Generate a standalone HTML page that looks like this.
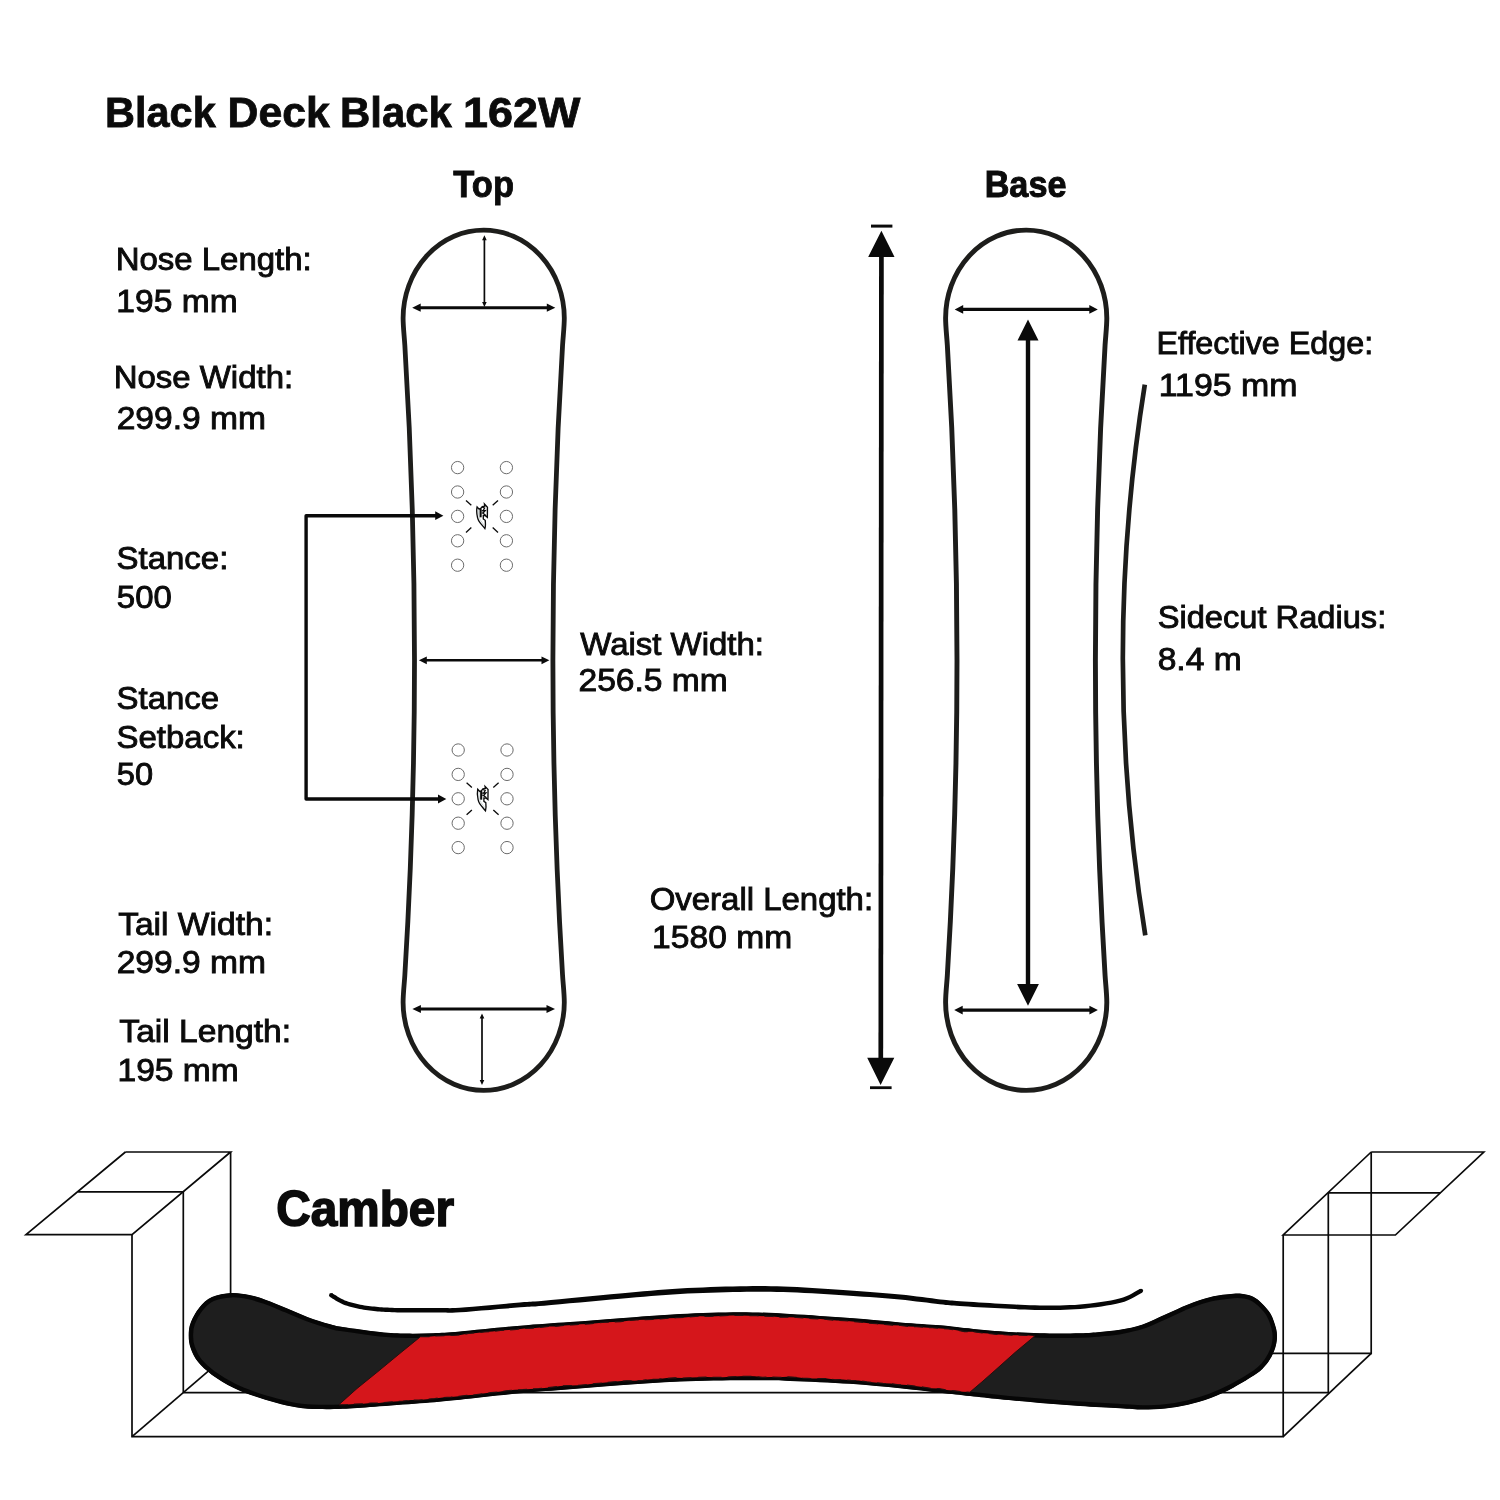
<!DOCTYPE html>
<html><head><meta charset="utf-8"><title>Black Deck Black 162W</title>
<style>html,body{margin:0;padding:0;background:#fff}body{width:1500px;height:1500px;overflow:hidden;font-family:"Liberation Sans",sans-serif}svg{display:block}text{font-family:"Liberation Sans",sans-serif}</style></head><body>
<svg width="1500" height="1500" viewBox="0 0 1500 1500">
<rect width="1500" height="1500" fill="#fff"/>
<path d="M 403.10,318.10 A 80.6 88.0 0 0 1 564.30,318.10 C 564.30,327.10 563.12,336.10 562.57,345.10 Q 543.23,660.25 562.57,975.40 C 563.12,984.40 564.30,993.40 564.30,1002.40 A 80.6 88.0 0 0 1 403.10,1002.40 C 403.10,993.40 404.28,984.40 404.83,975.40 Q 424.17,660.25 404.83,345.10 C 404.28,336.10 403.10,327.10 403.10,318.10 Z" fill="none" stroke="#1d1d1b" stroke-width="4.8" stroke-linejoin="round"/>
<line x1="419.7" y1="307.7" x2="547.8" y2="307.7" stroke="#0a0a0a" stroke-width="2.9"/><path d="M412.2,307.7 L420.7,303.6 L420.7,311.8 Z M555.3,307.7 L546.8,303.6 L546.8,311.8 Z" fill="#0a0a0a"/>
<line x1="484.4" y1="239.2" x2="484.4" y2="303" stroke="#0a0a0a" stroke-width="1.7"/><path d="M484.4,235.2 L482.1,240.2 L486.7,240.2 Z M484.4,307 L482.1,302 L486.7,302 Z" fill="#0a0a0a"/>
<line x1="425.8" y1="660.3" x2="542.5" y2="660.3" stroke="#0a0a0a" stroke-width="2.5"/><path d="M418.9,660.3 L426.8,656.4 L426.8,664.2 Z M549.4,660.3 L541.5,656.4 L541.5,664.2 Z" fill="#0a0a0a"/>
<line x1="419.9" y1="1009" x2="547.5" y2="1009" stroke="#0a0a0a" stroke-width="2.9"/><path d="M412.4,1009 L420.9,1004.9 L420.9,1013.1 Z M555,1009 L546.5,1004.9 L546.5,1013.1 Z" fill="#0a0a0a"/>
<line x1="482" y1="1017.4" x2="482" y2="1081" stroke="#0a0a0a" stroke-width="1.7"/><path d="M482,1013.4 L479.7,1018.4 L484.3,1018.4 Z M482,1085 L479.7,1080 L484.3,1080 Z" fill="#0a0a0a"/>
<circle cx="457.6" cy="467.6" r="6.15" fill="none" stroke="#6c6c6c" stroke-width="1.0"/>
<circle cx="506.4" cy="467.6" r="6.15" fill="none" stroke="#6c6c6c" stroke-width="1.0"/>
<circle cx="457.6" cy="492.0" r="6.15" fill="none" stroke="#6c6c6c" stroke-width="1.0"/>
<circle cx="506.4" cy="492.0" r="6.15" fill="none" stroke="#6c6c6c" stroke-width="1.0"/>
<circle cx="457.6" cy="516.4" r="6.15" fill="none" stroke="#6c6c6c" stroke-width="1.0"/>
<circle cx="506.4" cy="516.4" r="6.15" fill="none" stroke="#6c6c6c" stroke-width="1.0"/>
<circle cx="457.6" cy="540.8" r="6.15" fill="none" stroke="#6c6c6c" stroke-width="1.0"/>
<circle cx="506.4" cy="540.8" r="6.15" fill="none" stroke="#6c6c6c" stroke-width="1.0"/>
<circle cx="457.6" cy="565.2" r="6.15" fill="none" stroke="#6c6c6c" stroke-width="1.0"/>
<circle cx="506.4" cy="565.2" r="6.15" fill="none" stroke="#6c6c6c" stroke-width="1.0"/>
<line x1="466.0" y1="500.4" x2="471.3" y2="505.2" stroke="#0a0a0a" stroke-width="1.3"/>
<line x1="466.0" y1="532.4" x2="471.3" y2="527.6" stroke="#0a0a0a" stroke-width="1.3"/>
<line x1="498.0" y1="500.4" x2="492.7" y2="505.2" stroke="#0a0a0a" stroke-width="1.3"/>
<line x1="498.0" y1="532.4" x2="492.7" y2="527.6" stroke="#0a0a0a" stroke-width="1.3"/>
<path transform="translate(482.0,516.4)" d="M-4.9,-9.5 C-5.6,-6 -5.2,-2 -4.5,0.9 C-4,3 -3.4,4.2 -2.9,4.9 C-1.6,6.8 1.2,10 2.9,12.1 C3.4,10.5 3.5,6.5 3.2,3.9 L1.3,2.6 L1.3,-0.9 L3.4,-0.7 L5.35,0.9 L5.45,-9.2 L2.45,-12.4 L2.7,-10.3 L0.3,-9.9 L-1.3,-7.9 L-2.9,-7.3 Z" fill="none" stroke="#0a0a0a" stroke-width="1.35" stroke-linejoin="miter" stroke-miterlimit="6"/>
<path transform="translate(482.0,516.4)" d="M-1.4,-7.9 L-1.4,0.9" fill="none" stroke="#0a0a0a" stroke-width="2.1"/>
<path transform="translate(482.0,516.4)" d="M0.2,-9.3 L2.6,-8.4 L1.1,-5.6 L3.3,-5.9 L1.0,-3.2 L3.9,-1.0 M-0.3,-3.6 L1.2,-3.2 M-0.3,-5.8 L1.0,-5.6" fill="none" stroke="#0a0a0a" stroke-width="1.3"/>
<path transform="translate(482.0,516.4)" d="M-3.6,-6.9 C-3.8,-2 -3,1.5 -1.4,4 C0,6 1.5,7.8 2.4,9" fill="none" stroke="#9aa" stroke-width="0.5"/>
<circle cx="458.2" cy="750.0" r="6.15" fill="none" stroke="#6c6c6c" stroke-width="1.0"/>
<circle cx="507.0" cy="750.0" r="6.15" fill="none" stroke="#6c6c6c" stroke-width="1.0"/>
<circle cx="458.2" cy="774.4" r="6.15" fill="none" stroke="#6c6c6c" stroke-width="1.0"/>
<circle cx="507.0" cy="774.4" r="6.15" fill="none" stroke="#6c6c6c" stroke-width="1.0"/>
<circle cx="458.2" cy="798.8" r="6.15" fill="none" stroke="#6c6c6c" stroke-width="1.0"/>
<circle cx="507.0" cy="798.8" r="6.15" fill="none" stroke="#6c6c6c" stroke-width="1.0"/>
<circle cx="458.2" cy="823.2" r="6.15" fill="none" stroke="#6c6c6c" stroke-width="1.0"/>
<circle cx="507.0" cy="823.2" r="6.15" fill="none" stroke="#6c6c6c" stroke-width="1.0"/>
<circle cx="458.2" cy="847.6" r="6.15" fill="none" stroke="#6c6c6c" stroke-width="1.0"/>
<circle cx="507.0" cy="847.6" r="6.15" fill="none" stroke="#6c6c6c" stroke-width="1.0"/>
<line x1="466.6" y1="782.8" x2="471.9" y2="787.6" stroke="#0a0a0a" stroke-width="1.3"/>
<line x1="466.6" y1="814.8" x2="471.9" y2="810.0" stroke="#0a0a0a" stroke-width="1.3"/>
<line x1="498.6" y1="782.8" x2="493.3" y2="787.6" stroke="#0a0a0a" stroke-width="1.3"/>
<line x1="498.6" y1="814.8" x2="493.3" y2="810.0" stroke="#0a0a0a" stroke-width="1.3"/>
<path transform="translate(482.6,798.8)" d="M-4.9,-9.5 C-5.6,-6 -5.2,-2 -4.5,0.9 C-4,3 -3.4,4.2 -2.9,4.9 C-1.6,6.8 1.2,10 2.9,12.1 C3.4,10.5 3.5,6.5 3.2,3.9 L1.3,2.6 L1.3,-0.9 L3.4,-0.7 L5.35,0.9 L5.45,-9.2 L2.45,-12.4 L2.7,-10.3 L0.3,-9.9 L-1.3,-7.9 L-2.9,-7.3 Z" fill="none" stroke="#0a0a0a" stroke-width="1.35" stroke-linejoin="miter" stroke-miterlimit="6"/>
<path transform="translate(482.6,798.8)" d="M-1.4,-7.9 L-1.4,0.9" fill="none" stroke="#0a0a0a" stroke-width="2.1"/>
<path transform="translate(482.6,798.8)" d="M0.2,-9.3 L2.6,-8.4 L1.1,-5.6 L3.3,-5.9 L1.0,-3.2 L3.9,-1.0 M-0.3,-3.6 L1.2,-3.2 M-0.3,-5.8 L1.0,-5.6" fill="none" stroke="#0a0a0a" stroke-width="1.3"/>
<path transform="translate(482.6,798.8)" d="M-3.6,-6.9 C-3.8,-2 -3,1.5 -1.4,4 C0,6 1.5,7.8 2.4,9" fill="none" stroke="#9aa" stroke-width="0.5"/>
<path d="M437,515.7 L306.1,515.7 L306.1,799 L439,799" fill="none" stroke="#0a0a0a" stroke-width="3.4" stroke-linejoin="round"/>
<path d="M443.4,515.7 L435.2,511.3 L435.2,520.1 Z M446.3,799 L438.0,794.6 L438.0,803.4 Z" fill="#0a0a0a"/>
<path d="M 945.60,318.10 A 80.6 88.0 0 0 1 1106.80,318.10 C 1106.80,327.10 1105.62,336.10 1105.07,345.10 Q 1085.73,660.25 1105.07,975.40 C 1105.62,984.40 1106.80,993.40 1106.80,1002.40 A 80.6 88.0 0 0 1 945.60,1002.40 C 945.60,993.40 946.78,984.40 947.33,975.40 Q 966.67,660.25 947.33,345.10 C 946.78,336.10 945.60,327.10 945.60,318.10 Z" fill="none" stroke="#1d1d1b" stroke-width="4.9" stroke-linejoin="round"/>
<line x1="962.2" y1="309.4" x2="1090.3" y2="309.4" stroke="#0a0a0a" stroke-width="3.4"/><path d="M954.7,309.4 L963.2,305.1 L963.2,313.7 Z M1097.8,309.4 L1089.3,305.1 L1089.3,313.7 Z" fill="#0a0a0a"/>
<line x1="961.7" y1="1010.1" x2="1090.4" y2="1010.1" stroke="#0a0a0a" stroke-width="3.4"/><path d="M954.2,1010.1 L962.7,1005.8 L962.7,1014.4 Z M1097.9,1010.1 L1089.4,1005.8 L1089.4,1014.4 Z" fill="#0a0a0a"/>
<line x1="1028" y1="339" x2="1028" y2="985" stroke="#0a0a0a" stroke-width="4.4"/>
<path d="M1028,319.4 L1017.5,340.4 L1038.5,340.4 Z M1028,1005.7 L1017.1,984 L1038.9,984 Z" fill="#0a0a0a"/>
<line x1="881.4" y1="255" x2="880.8" y2="1059" stroke="#0a0a0a" stroke-width="4.7"/>
<path d="M881.4,230.8 L868.2,256.9 L894.5,256.9 Z M880.6,1085 L867.2,1057.7 L894.3,1057.7 Z" fill="#0a0a0a"/>
<line x1="871" y1="226.1" x2="892.4" y2="226.1" stroke="#0a0a0a" stroke-width="3"/>
<line x1="870" y1="1087.7" x2="891.6" y2="1087.7" stroke="#0a0a0a" stroke-width="2.8"/>
<path d="M1144.8,384.7 Q1100.6,660 1145.3,935.3" fill="none" stroke="#1d1d1b" stroke-width="4.7"/>
<polyline points="125.4,1152 230.6,1152 132,1234.6 26,1234.6 125.4,1152" fill="none" stroke="#0a0a0a" stroke-width="1.7" stroke-linejoin="miter"/>
<polyline points="78.1,1191.8 183.3,1191.8 183.3,1392.6" fill="none" stroke="#0a0a0a" stroke-width="1.7" stroke-linejoin="miter"/>
<polyline points="230.6,1152 230.6,1300" fill="none" stroke="#0a0a0a" stroke-width="1.7" stroke-linejoin="miter"/>
<polyline points="132,1234.6 132,1436.6 1283.2,1436.6 1283.2,1235" fill="none" stroke="#0a0a0a" stroke-width="1.7" stroke-linejoin="miter"/>
<polyline points="132,1436.6 215,1365.3" fill="none" stroke="#0a0a0a" stroke-width="1.7" stroke-linejoin="miter"/>
<polyline points="183.3,1392.6 1328.3,1392.6 1328.3,1192.8" fill="none" stroke="#0a0a0a" stroke-width="1.7" stroke-linejoin="miter"/>
<polyline points="1371.2,1152 1483.8,1152 1395.4,1235 1283.2,1235 1371.2,1152" fill="none" stroke="#0a0a0a" stroke-width="1.7" stroke-linejoin="miter"/>
<polyline points="1328.3,1192.8 1440.3,1192.8" fill="none" stroke="#0a0a0a" stroke-width="1.7" stroke-linejoin="miter"/>
<polyline points="1371.2,1152 1371.2,1353.4 1260,1353.4" fill="none" stroke="#0a0a0a" stroke-width="1.7" stroke-linejoin="miter"/>
<polyline points="1283.2,1436.6 1371.2,1353.4" fill="none" stroke="#0a0a0a" stroke-width="1.7" stroke-linejoin="miter"/>
<defs><clipPath id="bc"><path d="M188.7,1335.5 C188.7,1331.2 188.9,1327.3 190.7,1322.7 C192.4,1318.1 195.6,1312.0 199.2,1307.7 C202.8,1303.4 206.7,1299.5 212.0,1297.1 C217.3,1294.6 225.0,1293.3 231.2,1293.0 C237.4,1292.7 243.6,1293.9 249.3,1295.0 C255.0,1296.1 259.1,1297.5 265.3,1299.7 C271.5,1301.9 279.6,1305.4 286.7,1308.3 C293.8,1311.2 300.9,1314.6 308.0,1317.2 C315.1,1319.8 323.5,1322.4 329.3,1324.0 C335.1,1325.6 334.2,1325.7 342.7,1327.0 C351.1,1328.3 369.3,1330.9 380.0,1332.0 C390.7,1333.1 397.8,1333.4 406.7,1333.6 C415.6,1333.8 424.4,1333.5 433.3,1333.2 C442.2,1332.9 445.6,1332.8 460.0,1331.5 C474.4,1330.2 501.7,1327.3 520.0,1325.7 C538.3,1324.1 553.3,1323.2 570.0,1322.0 C586.7,1320.8 601.7,1319.5 620.0,1318.2 C638.3,1316.9 660.0,1315.0 680.0,1314.0 C700.0,1313.0 721.7,1312.2 740.0,1312.2 C758.3,1312.2 771.7,1313.0 790.0,1314.0 C808.3,1315.0 831.7,1316.7 850.0,1318.1 C868.3,1319.5 885.0,1321.2 900.0,1322.4 C915.0,1323.6 930.0,1324.5 940.0,1325.3 C950.0,1326.1 950.0,1326.5 960.0,1327.5 C970.0,1328.5 986.7,1330.3 1000.0,1331.3 C1013.3,1332.3 1026.7,1333.0 1040.0,1333.3 C1053.3,1333.6 1070.0,1333.5 1080.0,1333.3 C1090.0,1333.1 1093.3,1332.6 1100.0,1332.0 C1106.7,1331.4 1112.9,1331.1 1120.0,1329.8 C1127.1,1328.5 1135.2,1326.9 1142.7,1324.4 C1150.2,1321.9 1157.8,1317.9 1165.3,1314.6 C1172.8,1311.3 1180.4,1307.3 1188.0,1304.4 C1195.6,1301.5 1203.2,1298.8 1210.7,1297.0 C1218.2,1295.2 1227.6,1294.3 1233.3,1293.8 C1239.0,1293.3 1241.3,1293.7 1244.7,1294.2 C1248.1,1294.7 1250.9,1295.5 1253.7,1297.0 C1256.5,1298.5 1258.9,1300.4 1261.7,1303.2 C1264.5,1306.0 1268.4,1309.9 1270.7,1314.0 C1273.0,1318.1 1274.8,1323.8 1275.8,1327.6 C1276.8,1331.4 1277.0,1333.7 1277.0,1336.7 C1277.0,1339.7 1276.6,1342.5 1275.8,1345.7 C1275.0,1348.9 1273.7,1352.5 1271.9,1355.9 C1270.1,1359.3 1267.7,1363.1 1265.0,1366.1 C1262.3,1369.1 1261.3,1370.5 1256.0,1374.1 C1250.7,1377.7 1240.8,1383.7 1233.3,1387.7 C1225.8,1391.7 1218.2,1395.1 1210.7,1397.9 C1203.2,1400.7 1195.6,1402.9 1188.0,1404.7 C1180.4,1406.5 1172.8,1407.8 1165.3,1408.6 C1157.8,1409.4 1150.2,1409.6 1142.7,1409.6 C1135.2,1409.5 1130.5,1408.9 1120.0,1408.3 C1109.5,1407.7 1093.3,1406.9 1080.0,1406.0 C1066.7,1405.1 1053.3,1404.1 1040.0,1403.0 C1026.7,1401.9 1011.7,1400.5 1000.0,1399.3 C988.3,1398.1 980.0,1397.1 970.0,1396.0 C960.0,1394.9 951.7,1394.0 940.0,1392.7 C928.3,1391.4 915.0,1389.8 900.0,1388.3 C885.0,1386.8 868.3,1385.0 850.0,1383.8 C831.7,1382.6 807.5,1381.5 790.0,1380.9 C772.5,1380.3 763.3,1380.2 745.0,1380.3 C726.7,1380.4 700.8,1380.7 680.0,1381.5 C659.2,1382.3 638.3,1383.9 620.0,1385.2 C601.7,1386.5 586.7,1388.0 570.0,1389.3 C553.3,1390.6 538.3,1391.6 520.0,1393.3 C501.7,1395.0 476.7,1398.0 460.0,1399.7 C443.3,1401.4 434.2,1402.1 420.0,1403.3 C405.8,1404.5 387.6,1405.8 374.7,1406.7 C361.8,1407.6 352.0,1408.4 342.7,1408.8 C333.4,1409.2 326.3,1409.3 318.7,1409.1 C311.1,1408.9 304.4,1408.6 297.3,1407.5 C290.2,1406.4 283.1,1404.6 276.0,1402.7 C268.9,1400.8 261.8,1398.8 254.7,1396.3 C247.6,1393.8 240.4,1391.3 233.3,1387.7 C226.2,1384.1 217.9,1379.2 212.0,1374.9 C206.1,1370.6 201.7,1366.5 198.1,1362.1 C194.5,1357.7 192.3,1352.7 190.7,1348.3 C189.1,1343.9 188.7,1339.8 188.7,1335.5 Z"/></clipPath></defs>
<path d="M188.7,1335.5 C188.7,1331.2 188.9,1327.3 190.7,1322.7 C192.4,1318.1 195.6,1312.0 199.2,1307.7 C202.8,1303.4 206.7,1299.5 212.0,1297.1 C217.3,1294.6 225.0,1293.3 231.2,1293.0 C237.4,1292.7 243.6,1293.9 249.3,1295.0 C255.0,1296.1 259.1,1297.5 265.3,1299.7 C271.5,1301.9 279.6,1305.4 286.7,1308.3 C293.8,1311.2 300.9,1314.6 308.0,1317.2 C315.1,1319.8 323.5,1322.4 329.3,1324.0 C335.1,1325.6 334.2,1325.7 342.7,1327.0 C351.1,1328.3 369.3,1330.9 380.0,1332.0 C390.7,1333.1 397.8,1333.4 406.7,1333.6 C415.6,1333.8 424.4,1333.5 433.3,1333.2 C442.2,1332.9 445.6,1332.8 460.0,1331.5 C474.4,1330.2 501.7,1327.3 520.0,1325.7 C538.3,1324.1 553.3,1323.2 570.0,1322.0 C586.7,1320.8 601.7,1319.5 620.0,1318.2 C638.3,1316.9 660.0,1315.0 680.0,1314.0 C700.0,1313.0 721.7,1312.2 740.0,1312.2 C758.3,1312.2 771.7,1313.0 790.0,1314.0 C808.3,1315.0 831.7,1316.7 850.0,1318.1 C868.3,1319.5 885.0,1321.2 900.0,1322.4 C915.0,1323.6 930.0,1324.5 940.0,1325.3 C950.0,1326.1 950.0,1326.5 960.0,1327.5 C970.0,1328.5 986.7,1330.3 1000.0,1331.3 C1013.3,1332.3 1026.7,1333.0 1040.0,1333.3 C1053.3,1333.6 1070.0,1333.5 1080.0,1333.3 C1090.0,1333.1 1093.3,1332.6 1100.0,1332.0 C1106.7,1331.4 1112.9,1331.1 1120.0,1329.8 C1127.1,1328.5 1135.2,1326.9 1142.7,1324.4 C1150.2,1321.9 1157.8,1317.9 1165.3,1314.6 C1172.8,1311.3 1180.4,1307.3 1188.0,1304.4 C1195.6,1301.5 1203.2,1298.8 1210.7,1297.0 C1218.2,1295.2 1227.6,1294.3 1233.3,1293.8 C1239.0,1293.3 1241.3,1293.7 1244.7,1294.2 C1248.1,1294.7 1250.9,1295.5 1253.7,1297.0 C1256.5,1298.5 1258.9,1300.4 1261.7,1303.2 C1264.5,1306.0 1268.4,1309.9 1270.7,1314.0 C1273.0,1318.1 1274.8,1323.8 1275.8,1327.6 C1276.8,1331.4 1277.0,1333.7 1277.0,1336.7 C1277.0,1339.7 1276.6,1342.5 1275.8,1345.7 C1275.0,1348.9 1273.7,1352.5 1271.9,1355.9 C1270.1,1359.3 1267.7,1363.1 1265.0,1366.1 C1262.3,1369.1 1261.3,1370.5 1256.0,1374.1 C1250.7,1377.7 1240.8,1383.7 1233.3,1387.7 C1225.8,1391.7 1218.2,1395.1 1210.7,1397.9 C1203.2,1400.7 1195.6,1402.9 1188.0,1404.7 C1180.4,1406.5 1172.8,1407.8 1165.3,1408.6 C1157.8,1409.4 1150.2,1409.6 1142.7,1409.6 C1135.2,1409.5 1130.5,1408.9 1120.0,1408.3 C1109.5,1407.7 1093.3,1406.9 1080.0,1406.0 C1066.7,1405.1 1053.3,1404.1 1040.0,1403.0 C1026.7,1401.9 1011.7,1400.5 1000.0,1399.3 C988.3,1398.1 980.0,1397.1 970.0,1396.0 C960.0,1394.9 951.7,1394.0 940.0,1392.7 C928.3,1391.4 915.0,1389.8 900.0,1388.3 C885.0,1386.8 868.3,1385.0 850.0,1383.8 C831.7,1382.6 807.5,1381.5 790.0,1380.9 C772.5,1380.3 763.3,1380.2 745.0,1380.3 C726.7,1380.4 700.8,1380.7 680.0,1381.5 C659.2,1382.3 638.3,1383.9 620.0,1385.2 C601.7,1386.5 586.7,1388.0 570.0,1389.3 C553.3,1390.6 538.3,1391.6 520.0,1393.3 C501.7,1395.0 476.7,1398.0 460.0,1399.7 C443.3,1401.4 434.2,1402.1 420.0,1403.3 C405.8,1404.5 387.6,1405.8 374.7,1406.7 C361.8,1407.6 352.0,1408.4 342.7,1408.8 C333.4,1409.2 326.3,1409.3 318.7,1409.1 C311.1,1408.9 304.4,1408.6 297.3,1407.5 C290.2,1406.4 283.1,1404.6 276.0,1402.7 C268.9,1400.8 261.8,1398.8 254.7,1396.3 C247.6,1393.8 240.4,1391.3 233.3,1387.7 C226.2,1384.1 217.9,1379.2 212.0,1374.9 C206.1,1370.6 201.7,1366.5 198.1,1362.1 C194.5,1357.7 192.3,1352.7 190.7,1348.3 C189.1,1343.9 188.7,1339.8 188.7,1335.5 Z" fill="#1e1e1e" stroke="#060606" stroke-width="8.8" clip-path="url(#bc)"/>
<polygon points="420.5,1336.7 428.5,1336.8 436.5,1336.1 444.5,1335.8 452.5,1335.6 460.5,1335.1 468.5,1333.6 476.5,1332.9 484.5,1332.0 492.5,1331.6 500.5,1330.5 508.5,1330.1 516.5,1329.5 524.5,1328.5 532.5,1328.2 540.5,1327.6 548.5,1326.5 556.5,1326.4 564.5,1325.5 572.5,1325.0 580.5,1324.3 588.5,1324.1 596.5,1323.2 604.5,1322.4 612.5,1322.1 620.5,1321.7 628.5,1320.7 636.5,1320.1 644.5,1319.7 652.5,1319.6 660.5,1319.1 668.5,1318.3 676.5,1317.9 684.5,1317.5 692.5,1316.8 700.5,1316.3 708.5,1316.6 716.5,1316.3 724.5,1315.8 732.5,1315.5 740.5,1315.4 748.5,1315.8 756.5,1315.9 764.5,1316.2 772.5,1316.6 780.5,1317.3 788.5,1317.3 796.5,1317.5 804.5,1318.1 812.5,1318.8 820.5,1319.1 828.5,1319.7 836.5,1320.5 844.5,1320.7 852.5,1321.6 860.5,1322.2 868.5,1323.2 876.5,1323.9 884.5,1324.5 892.5,1325.2 900.5,1325.6 908.5,1326.5 916.5,1326.8 924.5,1327.5 932.5,1327.9 940.5,1328.6 948.5,1329.1 956.5,1330.2 964.5,1331.7 972.5,1331.7 980.5,1332.9 988.5,1333.6 996.5,1334.5 1004.5,1334.8 1012.5,1335.3 1020.5,1335.2 1028.5,1335.6 1034.7,1336.1 1015.0,1352.5 996.0,1369.5 983.0,1381.0 970.0,1392.1 962.9,1391.8 954.9,1390.8 946.9,1390.0 938.9,1388.5 930.9,1388.2 922.9,1386.9 914.9,1386.0 906.9,1384.9 898.9,1384.6 890.9,1383.6 882.9,1383.2 874.9,1382.5 866.9,1381.7 858.9,1380.5 850.9,1380.3 842.9,1379.5 834.9,1379.6 826.9,1378.5 818.9,1378.4 810.9,1378.5 802.9,1377.9 794.9,1377.1 786.9,1376.8 778.9,1377.3 770.9,1376.9 762.9,1377.2 754.9,1376.3 746.9,1376.1 738.9,1376.2 730.9,1376.7 722.9,1377.3 714.9,1377.2 706.9,1377.0 698.9,1377.3 690.9,1377.6 682.9,1377.9 674.9,1377.8 666.9,1378.1 658.9,1378.9 650.9,1379.2 642.9,1380.1 634.9,1380.8 626.9,1380.6 618.9,1381.2 610.9,1381.9 602.9,1382.8 594.9,1383.4 586.9,1384.4 578.9,1385.2 570.9,1385.4 562.9,1385.7 554.9,1386.7 546.9,1387.7 538.9,1388.4 530.9,1388.9 522.9,1389.5 514.9,1389.8 506.9,1390.6 498.9,1391.8 490.9,1392.5 482.9,1393.6 474.9,1394.7 466.9,1395.3 458.9,1396.2 450.9,1397.0 442.9,1397.4 434.9,1398.4 426.9,1399.2 418.9,1400.0 410.9,1400.0 402.9,1401.0 394.9,1401.4 386.9,1402.1 378.9,1403.0 370.9,1402.9 362.9,1403.7 354.9,1403.9 346.9,1404.4 338.9,1404.7 357.0,1388.5 378.0,1371.5 401.0,1352.5" fill="#d5161b"/>
<polyline points="338.9,1404.7 357.0,1388.5 378.0,1371.5 401.0,1352.5 420.5,1336.7" fill="none" stroke="#2a0d0d" stroke-width="1"/>
<polyline points="1034.7,1336.1 1015.0,1352.5 996.0,1369.5 983.0,1381.0 970.0,1392.1" fill="none" stroke="#2a0d0d" stroke-width="1"/>
<polyline points="420.5,1336.5 428.5,1336.6 436.5,1335.9 444.5,1335.6 452.5,1335.4 460.5,1334.9 468.5,1333.4 476.5,1332.7 484.5,1331.8 492.5,1331.4 500.5,1330.3 508.5,1329.9 516.5,1329.3 524.5,1328.3 532.5,1328.0 540.5,1327.4 548.5,1326.3 556.5,1326.2 564.5,1325.3 572.5,1324.8 580.5,1324.1 588.5,1323.9 596.5,1323.0 604.5,1322.2 612.5,1321.9 620.5,1321.5 628.5,1320.5 636.5,1319.9 644.5,1319.5 652.5,1319.4 660.5,1318.9 668.5,1318.1 676.5,1317.7 684.5,1317.3 692.5,1316.6 700.5,1316.1 708.5,1316.4 716.5,1316.1 724.5,1315.6 732.5,1315.3 740.5,1315.2 748.5,1315.6 756.5,1315.7 764.5,1316.0 772.5,1316.4 780.5,1317.1 788.5,1317.1 796.5,1317.3 804.5,1317.9 812.5,1318.6 820.5,1318.9 828.5,1319.5 836.5,1320.3 844.5,1320.5 852.5,1321.4 860.5,1322.0 868.5,1323.0 876.5,1323.7 884.5,1324.3 892.5,1325.0 900.5,1325.4 908.5,1326.3 916.5,1326.6 924.5,1327.3 932.5,1327.7 940.5,1328.4 948.5,1328.9 956.5,1330.0 964.5,1331.5 972.5,1331.5 980.5,1332.7 988.5,1333.4 996.5,1334.3 1004.5,1334.6 1012.5,1335.1 1020.5,1335.0 1028.5,1335.4 1034.7,1335.9" fill="none" stroke="#231010" stroke-width="1.3" stroke-dasharray="9 6"/>
<polyline points="338.9,1404.9 346.9,1404.6 354.9,1404.1 362.9,1403.9 370.9,1403.1 378.9,1403.2 386.9,1402.3 394.9,1401.6 402.9,1401.2 410.9,1400.2 418.9,1400.2 426.9,1399.4 434.9,1398.6 442.9,1397.6 450.9,1397.2 458.9,1396.4 466.9,1395.5 474.9,1394.9 482.9,1393.8 490.9,1392.7 498.9,1392.0 506.9,1390.8 514.9,1390.0 522.9,1389.7 530.9,1389.1 538.9,1388.6 546.9,1387.9 554.9,1386.9 562.9,1385.9 570.9,1385.6 578.9,1385.4 586.9,1384.6 594.9,1383.6 602.9,1383.0 610.9,1382.1 618.9,1381.4 626.9,1380.8 634.9,1381.0 642.9,1380.3 650.9,1379.4 658.9,1379.1 666.9,1378.3 674.9,1378.0 682.9,1378.1 690.9,1377.8 698.9,1377.5 706.9,1377.2 714.9,1377.4 722.9,1377.5 730.9,1376.9 738.9,1376.4 746.9,1376.3 754.9,1376.5 762.9,1377.4 770.9,1377.1 778.9,1377.5 786.9,1377.0 794.9,1377.3 802.9,1378.1 810.9,1378.7 818.9,1378.6 826.9,1378.7 834.9,1379.8 842.9,1379.7 850.9,1380.5 858.9,1380.7 866.9,1381.9 874.9,1382.7 882.9,1383.4 890.9,1383.8 898.9,1384.8 906.9,1385.1 914.9,1386.2 922.9,1387.1 930.9,1388.4 938.9,1388.7 946.9,1390.2 954.9,1391.0 962.9,1392.0 970.0,1392.3" fill="none" stroke="#231010" stroke-width="1.3" stroke-dasharray="9 6"/>
<polygon points="330.1,1297.1 331.0,1297.6 332.3,1298.4 333.8,1299.3 335.5,1300.4 337.3,1301.5 339.3,1302.6 341.2,1303.6 343.2,1304.4 345.1,1305.2 347.1,1305.8 349.2,1306.5 351.2,1307.0 353.3,1307.6 355.4,1308.1 357.5,1308.5 359.6,1308.9 361.6,1309.3 363.6,1309.7 365.7,1310.0 367.7,1310.3 369.7,1310.5 371.8,1310.8 373.8,1311.0 375.8,1311.2 377.7,1311.4 379.6,1311.5 381.5,1311.7 383.4,1311.8 385.3,1311.9 387.3,1312.0 389.5,1312.1 391.9,1312.2 394.6,1312.3 397.4,1312.4 400.4,1312.4 403.5,1312.4 406.6,1312.5 409.8,1312.5 412.9,1312.5 416.0,1312.5 419.0,1312.6 422.1,1312.6 425.2,1312.5 428.3,1312.5 431.3,1312.5 434.3,1312.5 437.2,1312.5 440.0,1312.5 442.4,1312.5 444.3,1312.5 445.9,1312.6 447.7,1312.7 449.8,1312.7 452.4,1312.7 455.7,1312.5 460.2,1312.3 466.0,1311.9 473.2,1311.3 481.4,1310.6 490.0,1309.9 498.6,1309.1 506.8,1308.4 514.2,1307.8 520.2,1307.3 524.5,1307.0 527.5,1306.8 529.5,1306.7 531.1,1306.6 532.9,1306.5 535.4,1306.4 539.0,1306.1 544.2,1305.7 551.3,1305.0 560.0,1304.2 569.6,1303.3 580.0,1302.4 590.6,1301.4 601.1,1300.4 611.1,1299.5 620.2,1298.7 628.5,1298.0 636.4,1297.3 643.9,1296.7 651.2,1296.1 658.4,1295.5 665.6,1295.0 672.8,1294.5 680.2,1294.1 687.7,1293.6 695.4,1293.3 703.1,1293.0 710.7,1292.7 718.3,1292.4 725.8,1292.2 733.0,1292.0 740.0,1291.9 746.7,1291.8 753.0,1291.7 759.0,1291.7 765.0,1291.7 770.9,1291.8 777.0,1291.9 783.3,1292.1 789.9,1292.3 797.0,1292.6 804.4,1292.9 812.0,1293.3 819.8,1293.8 827.6,1294.3 835.3,1294.8 842.7,1295.3 849.8,1295.8 856.6,1296.2 863.3,1296.7 869.7,1297.1 876.1,1297.6 882.2,1298.0 888.2,1298.5 894.1,1299.0 899.8,1299.5 905.3,1300.1 910.9,1300.7 916.3,1301.4 921.6,1302.0 926.6,1302.6 931.3,1303.2 935.7,1303.8 939.7,1304.2 943.1,1304.6 945.7,1304.9 947.8,1305.1 949.8,1305.3 951.7,1305.4 953.9,1305.6 956.5,1305.8 959.8,1306.0 963.9,1306.3 968.4,1306.6 973.4,1306.9 978.6,1307.2 984.0,1307.5 989.4,1307.8 994.7,1308.1 999.9,1308.3 1004.9,1308.6 1009.9,1308.8 1014.9,1309.1 1019.9,1309.4 1024.9,1309.6 1029.9,1309.8 1035.0,1309.9 1040.0,1310.0 1045.0,1310.0 1050.0,1310.0 1055.0,1310.0 1060.0,1309.9 1065.1,1309.8 1070.1,1309.6 1075.1,1309.3 1080.2,1308.9 1085.4,1308.4 1090.7,1307.8 1096.1,1307.2 1101.5,1306.4 1106.7,1305.6 1111.7,1304.8 1116.4,1303.8 1120.6,1302.8 1124.4,1301.7 1127.9,1300.3 1131.1,1298.8 1134.0,1297.3 1136.6,1295.8 1138.8,1294.5 1140.6,1293.5 1142.0,1292.7 1140.0,1288.9 1138.4,1289.7 1136.6,1290.8 1134.4,1292.1 1132.0,1293.5 1129.2,1294.9 1126.2,1296.3 1123.0,1297.5 1119.4,1298.6 1115.4,1299.5 1110.9,1300.4 1106.0,1301.3 1100.9,1302.1 1095.6,1302.8 1090.2,1303.4 1084.9,1304.0 1079.8,1304.5 1074.9,1304.9 1069.9,1305.1 1064.9,1305.3 1060.0,1305.4 1055.0,1305.5 1050.0,1305.5 1045.0,1305.5 1040.0,1305.4 1035.0,1305.3 1030.1,1305.2 1025.1,1305.0 1020.1,1304.8 1015.1,1304.5 1010.1,1304.2 1005.1,1303.9 1000.1,1303.7 995.0,1303.4 989.7,1303.1 984.3,1302.8 978.9,1302.4 973.7,1302.1 968.7,1301.8 964.2,1301.5 960.2,1301.2 956.9,1301.0 954.2,1300.8 952.1,1300.6 950.2,1300.4 948.3,1300.2 946.2,1300.0 943.6,1299.7 940.3,1299.4 936.3,1298.9 932.0,1298.3 927.2,1297.7 922.2,1297.1 916.9,1296.4 911.5,1295.7 905.9,1295.1 900.2,1294.5 894.5,1293.9 888.7,1293.4 882.6,1292.9 876.4,1292.4 870.1,1291.9 863.6,1291.4 857.0,1290.9 850.2,1290.4 843.1,1289.9 835.7,1289.4 828.0,1288.9 820.2,1288.4 812.4,1287.9 804.7,1287.4 797.2,1287.0 790.1,1286.7 783.4,1286.5 777.1,1286.3 771.0,1286.2 765.0,1286.1 759.0,1286.1 752.9,1286.1 746.6,1286.2 740.0,1286.3 732.9,1286.4 725.6,1286.6 718.1,1286.8 710.5,1287.1 702.8,1287.4 695.1,1287.7 687.4,1288.1 679.8,1288.5 672.4,1289.0 665.2,1289.5 658.0,1290.1 650.8,1290.7 643.4,1291.3 635.9,1292.0 628.0,1292.7 619.8,1293.5 610.7,1294.3 600.7,1295.3 590.1,1296.3 579.5,1297.3 569.2,1298.3 559.5,1299.3 550.9,1300.1 543.8,1300.7 538.6,1301.2 535.0,1301.5 532.6,1301.6 530.9,1301.7 529.2,1301.8 527.2,1301.9 524.2,1302.1 519.8,1302.5 513.7,1303.0 506.4,1303.7 498.2,1304.4 489.5,1305.2 481.0,1306.0 472.8,1306.7 465.7,1307.3 459.8,1307.7 455.5,1308.0 452.2,1308.1 449.7,1308.2 447.8,1308.1 446.1,1308.1 444.4,1308.0 442.5,1307.9 440.0,1307.9 437.2,1308.0 434.3,1308.0 431.3,1308.0 428.2,1308.0 425.2,1308.0 422.1,1308.1 419.0,1308.1 416.0,1308.1 413.0,1308.1 409.8,1308.0 406.7,1308.0 403.5,1308.0 400.4,1308.0 397.5,1307.9 394.7,1307.9 392.1,1307.8 389.7,1307.7 387.5,1307.6 385.5,1307.5 383.6,1307.4 381.8,1307.3 380.0,1307.2 378.1,1307.0 376.2,1306.8 374.2,1306.6 372.2,1306.4 370.3,1306.2 368.3,1305.9 366.3,1305.7 364.4,1305.4 362.4,1305.0 360.4,1304.7 358.4,1304.2 356.4,1303.8 354.4,1303.3 352.4,1302.8 350.4,1302.3 348.4,1301.7 346.6,1301.0 344.8,1300.4 343.1,1299.6 341.3,1298.7 339.5,1297.7 337.7,1296.7 336.1,1295.6 334.6,1294.7 333.3,1293.9 332.3,1293.3" fill="#060606"/>
<circle cx="331.2" cy="1295.2" r="2.15" fill="#060606"/><circle cx="1141.0" cy="1290.8" r="2.15" fill="#060606"/>
<g opacity="0.999">
<text transform="translate(115.69,270.2) scale(1.03,1)" font-size="32.0" font-weight="normal" fill="#0b0b0b" stroke="#0b0b0b" stroke-width="0.9">Nose Length:</text>
<text transform="translate(116.29,312.0) scale(1.05,1)" font-size="32.0" font-weight="normal" fill="#0b0b0b" stroke="#0b0b0b" stroke-width="0.9">195 mm</text>
<text transform="translate(113.68,388.2) scale(1.03,1)" font-size="32.0" font-weight="normal" fill="#0b0b0b" stroke="#0b0b0b" stroke-width="0.9">Nose Width:</text>
<text transform="translate(116.69,429.0) scale(1.05,1)" font-size="32.0" font-weight="normal" fill="#0b0b0b" stroke="#0b0b0b" stroke-width="0.9">299.9 mm</text>
<text transform="translate(116.57,569.0) scale(1.03,1)" font-size="32.0" font-weight="normal" fill="#0b0b0b" stroke="#0b0b0b" stroke-width="0.9">Stance:</text>
<text transform="translate(116.83,607.6) scale(1.03,1)" font-size="32.0" font-weight="normal" fill="#0b0b0b" stroke="#0b0b0b" stroke-width="0.9">500</text>
<text transform="translate(116.57,709.0) scale(1.03,1)" font-size="32.0" font-weight="normal" fill="#0b0b0b" stroke="#0b0b0b" stroke-width="0.9">Stance</text>
<text transform="translate(116.57,747.6) scale(1.03,1)" font-size="32.0" font-weight="normal" fill="#0b0b0b" stroke="#0b0b0b" stroke-width="0.9">Setback:</text>
<text transform="translate(116.83,784.6) scale(1.02,1)" font-size="32.0" font-weight="normal" fill="#0b0b0b" stroke="#0b0b0b" stroke-width="0.9">50</text>
<text transform="translate(118.14,934.6) scale(1.05,1)" font-size="32.0" font-weight="normal" fill="#0b0b0b" stroke="#0b0b0b" stroke-width="0.9">Tail Width:</text>
<text transform="translate(116.69,973.2) scale(1.05,1)" font-size="32.0" font-weight="normal" fill="#0b0b0b" stroke="#0b0b0b" stroke-width="0.9">299.9 mm</text>
<text transform="translate(119.34,1041.6) scale(1.05,1)" font-size="32.0" font-weight="normal" fill="#0b0b0b" stroke="#0b0b0b" stroke-width="0.9">Tail Length:</text>
<text transform="translate(117.50,1080.6) scale(1.05,1)" font-size="32.0" font-weight="normal" fill="#0b0b0b" stroke="#0b0b0b" stroke-width="0.9">195 mm</text>
<text transform="translate(580.32,654.8) scale(1.03,1)" font-size="32.0" font-weight="normal" fill="#0b0b0b" stroke="#0b0b0b" stroke-width="0.9">Waist Width:</text>
<text transform="translate(578.49,691.3) scale(1.05,1)" font-size="32.0" font-weight="normal" fill="#0b0b0b" stroke="#0b0b0b" stroke-width="0.9">256.5 mm</text>
<text transform="translate(649.67,910.0) scale(1.03,1)" font-size="32.0" font-weight="normal" fill="#0b0b0b" stroke="#0b0b0b" stroke-width="0.9">Overall Length:</text>
<text transform="translate(652.11,948.0) scale(1.05,1)" font-size="32.0" font-weight="normal" fill="#0b0b0b" stroke="#0b0b0b" stroke-width="0.9">1580 mm</text>
<text transform="translate(1156.43,353.7) scale(1.01,1)" font-size="32.0" font-weight="normal" fill="#0b0b0b" stroke="#0b0b0b" stroke-width="0.9">Effective Edge:</text>
<text transform="translate(1158.68,395.6) scale(1.06,1)" font-size="32.0" font-weight="normal" fill="#0b0b0b" stroke="#0b0b0b" stroke-width="0.9">1195 mm</text>
<text transform="translate(1157.68,628.1) scale(1.02,1)" font-size="32.0" font-weight="normal" fill="#0b0b0b" stroke="#0b0b0b" stroke-width="0.9">Sidecut Radius:</text>
<text transform="translate(1157.65,669.6) scale(1.05,1)" font-size="32.0" font-weight="normal" fill="#0b0b0b" stroke="#0b0b0b" stroke-width="0.9">8.4 m</text>
<text transform="translate(105.10,126.7) scale(0.96,1)" font-size="43.2" font-weight="bold" fill="#0b0b0b" stroke="#0b0b0b" stroke-width="0.8">Black</text>
<text transform="translate(227.53,126.7) scale(0.99,1)" font-size="43.2" font-weight="bold" fill="#0b0b0b" stroke="#0b0b0b" stroke-width="0.8">Deck</text>
<text transform="translate(340.08,126.7) scale(0.97,1)" font-size="43.2" font-weight="bold" fill="#0b0b0b" stroke="#0b0b0b" stroke-width="0.8">Black</text>
<text transform="translate(462.95,126.7) scale(1.04,1)" font-size="43.2" font-weight="bold" fill="#0b0b0b" stroke="#0b0b0b" stroke-width="0.8">162W</text>
<text transform="translate(453.30,196.8) scale(0.93,1)" font-size="37.1" font-weight="bold" fill="#0b0b0b" stroke="#0b0b0b" stroke-width="0.9">Top</text>
<text transform="translate(984.65,196.7) scale(0.92,1)" font-size="37.2" font-weight="bold" fill="#0b0b0b" stroke="#0b0b0b" stroke-width="1.0">Base</text>
<text transform="translate(276.29,1225.6) scale(0.97,1)" font-size="49.2" font-weight="bold" fill="#0b0b0b" stroke="#0b0b0b" stroke-width="1.6">Camber</text>
</g>
</svg></body></html>
